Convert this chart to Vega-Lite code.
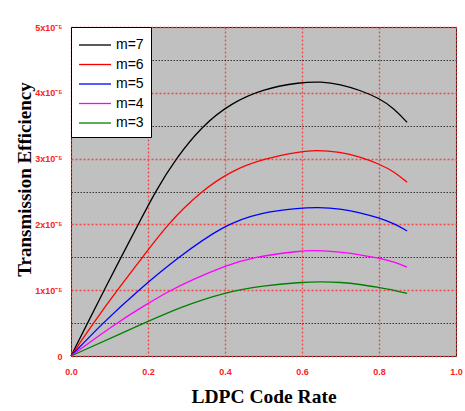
{
  "$schema": "https://vega.github.io/schema/vega-lite/v6.json",
  "autosize": {"type": "none"},
  "width": 385,
  "height": 329,
  "padding": {"left": 71, "top": 27, "right": 9, "bottom": 55},
  "background": "white",
  "config": {
    "view": {"fill": "#c0c0c0", "stroke": "#222222", "strokeWidth": 1}
  },
  "data": {"values": [
    {"m": "m=7", "rate": 0, "eff": 0},
    {"m": "m=7", "rate": 0.043, "eff": 0.5e-5},
    {"m": "m=7", "rate": 0.086, "eff": 1.0e-5},
    {"m": "m=7", "rate": 0.13, "eff": 1.5e-5},
    {"m": "m=7", "rate": 0.172, "eff": 1.97e-5},
    {"m": "m=7", "rate": 0.219, "eff": 2.5e-5},
    {"m": "m=7", "rate": 0.272, "eff": 3.0e-5},
    {"m": "m=7", "rate": 0.341, "eff": 3.5e-5},
    {"m": "m=7", "rate": 0.415, "eff": 3.84e-5},
    {"m": "m=7", "rate": 0.5, "eff": 4.06e-5},
    {"m": "m=7", "rate": 0.595, "eff": 4.16e-5},
    {"m": "m=7", "rate": 0.65, "eff": 4.17e-5},
    {"m": "m=7", "rate": 0.7, "eff": 4.13e-5},
    {"m": "m=7", "rate": 0.75, "eff": 4.04e-5},
    {"m": "m=7", "rate": 0.8, "eff": 3.92e-5},
    {"m": "m=7", "rate": 0.84, "eff": 3.76e-5},
    {"m": "m=7", "rate": 0.873, "eff": 3.55e-5},
    {"m": "m=6", "rate": 0, "eff": 0},
    {"m": "m=6", "rate": 0.058, "eff": 0.5e-5},
    {"m": "m=6", "rate": 0.12, "eff": 1.0e-5},
    {"m": "m=6", "rate": 0.186, "eff": 1.5e-5},
    {"m": "m=6", "rate": 0.25, "eff": 2.0e-5},
    {"m": "m=6", "rate": 0.337, "eff": 2.5e-5},
    {"m": "m=6", "rate": 0.415, "eff": 2.81e-5},
    {"m": "m=6", "rate": 0.5, "eff": 3.0e-5},
    {"m": "m=6", "rate": 0.6, "eff": 3.11e-5},
    {"m": "m=6", "rate": 0.634, "eff": 3.13e-5},
    {"m": "m=6", "rate": 0.7, "eff": 3.1e-5},
    {"m": "m=6", "rate": 0.75, "eff": 3.03e-5},
    {"m": "m=6", "rate": 0.8, "eff": 2.92e-5},
    {"m": "m=6", "rate": 0.84, "eff": 2.8e-5},
    {"m": "m=6", "rate": 0.873, "eff": 2.64e-5},
    {"m": "m=5", "rate": 0, "eff": 0},
    {"m": "m=5", "rate": 0.082, "eff": 0.5e-5},
    {"m": "m=5", "rate": 0.175, "eff": 1.0e-5},
    {"m": "m=5", "rate": 0.278, "eff": 1.5e-5},
    {"m": "m=5", "rate": 0.4, "eff": 2.0e-5},
    {"m": "m=5", "rate": 0.491, "eff": 2.18e-5},
    {"m": "m=5", "rate": 0.595, "eff": 2.25e-5},
    {"m": "m=5", "rate": 0.64, "eff": 2.26e-5},
    {"m": "m=5", "rate": 0.7, "eff": 2.24e-5},
    {"m": "m=5", "rate": 0.75, "eff": 2.18e-5},
    {"m": "m=5", "rate": 0.8, "eff": 2.1e-5},
    {"m": "m=5", "rate": 0.84, "eff": 2.01e-5},
    {"m": "m=5", "rate": 0.873, "eff": 1.9e-5},
    {"m": "m=4", "rate": 0, "eff": 0},
    {"m": "m=4", "rate": 0.112, "eff": 0.48e-5},
    {"m": "m=4", "rate": 0.2, "eff": 0.8e-5},
    {"m": "m=4", "rate": 0.259, "eff": 1.0e-5},
    {"m": "m=4", "rate": 0.311, "eff": 1.15e-5},
    {"m": "m=4", "rate": 0.4, "eff": 1.37e-5},
    {"m": "m=4", "rate": 0.469, "eff": 1.5e-5},
    {"m": "m=4", "rate": 0.6, "eff": 1.6e-5},
    {"m": "m=4", "rate": 0.63, "eff": 1.605e-5},
    {"m": "m=4", "rate": 0.7, "eff": 1.58e-5},
    {"m": "m=4", "rate": 0.75, "eff": 1.54e-5},
    {"m": "m=4", "rate": 0.8, "eff": 1.49e-5},
    {"m": "m=4", "rate": 0.84, "eff": 1.43e-5},
    {"m": "m=4", "rate": 0.873, "eff": 1.35e-5},
    {"m": "m=3", "rate": 0, "eff": 0},
    {"m": "m=3", "rate": 0.19, "eff": 0.5e-5},
    {"m": "m=3", "rate": 0.283, "eff": 0.74e-5},
    {"m": "m=3", "rate": 0.4, "eff": 0.97e-5},
    {"m": "m=3", "rate": 0.5, "eff": 1.07e-5},
    {"m": "m=3", "rate": 0.595, "eff": 1.12e-5},
    {"m": "m=3", "rate": 0.65, "eff": 1.13e-5},
    {"m": "m=3", "rate": 0.7, "eff": 1.12e-5},
    {"m": "m=3", "rate": 0.75, "eff": 1.09e-5},
    {"m": "m=3", "rate": 0.8, "eff": 1.04e-5},
    {"m": "m=3", "rate": 0.84, "eff": 1.0e-5},
    {"m": "m=3", "rate": 0.873, "eff": 0.95e-5}
  ]},
  "mark": {"type": "line", "interpolate": "basis", "strokeWidth": 1.3},
  "encoding": {
    "x": {
      "field": "rate", "type": "quantitative",
      "scale": {"domain": [0, 1], "nice": false},
      "axis": {
        "values": [0, 0.2, 0.4, 0.6, 0.8, 1.0],
        "format": ".1f",
        "title": "LDPC Code Rate",
        "titleFont": "Liberation Serif", "titleFontSize": 19.5, "titleFontWeight": "bold", "titleColor": "black",
        "titlePadding": 11,
        "labelFont": "Liberation Sans", "labelFontSize": 9, "labelFontWeight": "bold", "labelColor": "#ff2020",
        "labelPadding": 11, "labelFlush": false, "labelOverlap": false, "labelBound": false,
        "ticks": false, "domain": false,
        "grid": true, "gridColor": "#ff3030", "gridDash": [2, 2], "gridWidth": 1.3, "gridOpacity": 0.85
      }
    },
    "y": {
      "field": "eff", "type": "quantitative",
      "scale": {"domain": [0, 5e-5], "nice": false},
      "axis": {
        "values": [0, 0.5e-5, 1e-5, 1.5e-5, 2e-5, 2.5e-5, 3e-5, 3.5e-5, 4e-5, 4.5e-5, 5e-5],
        "labelExpr": "abs(datum.value*1e5 - round(datum.value*1e5)) > 0.1 ? '' : (datum.value == 0 ? '0' : format(round(datum.value*1e5), 'd') + 'x10⁻⁵')",
        "title": "Transmission Efficiency",
        "titleFont": "Liberation Serif", "titleFontSize": 19, "titleFontWeight": "bold", "titleColor": "black",
        "titleX": -37, "titleY": 152,
        "labelFont": "Liberation Sans", "labelFontSize": 9, "labelFontWeight": "bold", "labelColor": "#ff2020",
        "labelPadding": 9, "labelFlush": false, "labelOverlap": false, "labelBound": false,
        "ticks": false, "domain": false,
        "grid": true,
        "gridColor": {"condition": {"test": "abs(datum.value*1e5 - round(datum.value*1e5)) > 0.1", "value": "#202020"}, "value": "#ff3030"},
        "gridDash": {"condition": {"test": "abs(datum.value*1e5 - round(datum.value*1e5)) > 0.1", "value": [1.5, 1.5]}, "value": [2, 2]},
        "gridWidth": {"condition": {"test": "abs(datum.value*1e5 - round(datum.value*1e5)) > 0.1", "value": 1}, "value": 1.3},
        "gridOpacity": 0.85
      }
    },
    "color": {
      "field": "m", "type": "nominal",
      "scale": {"domain": ["m=7", "m=6", "m=5", "m=4", "m=3"], "range": ["#000000", "#ff0000", "#0000ff", "#ff00ff", "#008000"]},
      "legend": {
        "title": null, "orient": "top-left", "offset": 0, "padding": 7,
        "strokeColor": "black", "fillColor": "white",
        "symbolType": "M-1.6,0H1.6", "symbolSize": 400, "symbolStrokeWidth": 1.3, "symbolOffset": 6,
        "labelFont": "Liberation Sans", "labelFontSize": 14, "labelColor": "black", "labelOffset": 10,
        "rowPadding": 1.5
      }
    }
  }
}
